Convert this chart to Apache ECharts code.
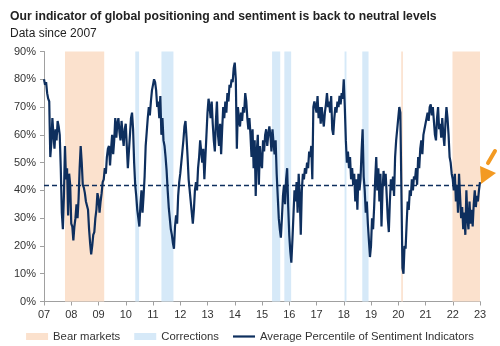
<!DOCTYPE html>
<html><head><meta charset="utf-8">
<script src="https://cdn.jsdelivr.net/npm/echarts@6/dist/echarts.min.js"></script>
<style>html,body{margin:0;padding:0;background:#fff}#c{width:500px;height:346px}</style>
</head><body><div id="c"></div>
<script>
const titleText = 'Our indicator of global positioning and sentiment is back to neutral levels';
const subtitleText = 'Data since 2007';
const yearTickLabels = ['07','08','09','10','11','12','13','14','15','16','17','18','19','20','21','22','23'];
const seriesStartYear = 2007;
const pointsPerYear = 26;
const values2007 = [80,78,79,75,73,72,52,57,66,60,55,62,58,65,63,60,48,32,26,38,56,44,48,31,46,42];
const values2008 = [28,27,22,27,30,35,30,37,48,56,50,42,41,39,36,36,33,26,21,17,20,24,25,30,33,39];
const values2009 = [37,32,36,39,43,44,48,46,52,55,56,49,55,60,53,58,66,59,64,66,61,58,65,60,56,62];
const values2010 = [64,56,48,54,60,66,68,62,50,42,38,33,30,27,35,40,32,38,45,56,61,66,70,67,72,76];
const values2011 = [78,80,79,76,70,72,66,74,60,66,58,56,52,47,40,34,30,26,24,21,19,27,31,28,38,43];
const values2012 = [46,50,54,58,63,65,59,52,44,40,36,32,28,33,40,43,40,48,52,58,54,50,55,44,52,60];
const values2013 = [68,73,70,66,72,64,58,54,65,72,60,56,64,53,62,70,66,72,68,75,72,78,77,80,79,84];
const values2014 = [86,80,55,70,66,63,68,65,70,68,75,72,66,62,66,60,52,62,48,58,38,54,60,42,56,50];
const values2015 = [48,58,54,60,62,56,60,63,60,54,62,57,53,58,46,38,30,26,23,30,38,42,35,44,48,34];
const values2016 = [24,18,14,22,31,40,36,43,32,46,38,24,40,46,44,48,46,50,48,54,52,56,44,70,72,70];
const values2017 = [68,74,66,70,64,70,66,63,68,71,75,70,72,68,74,62,60,66,70,68,72,70,74,71,75,73];
const values2018 = [80,70,58,50,54,48,52,44,48,42,46,36,44,33,46,40,44,54,62,45,40,32,36,28,22,16];
const values2019 = [20,30,26,34,44,52,40,48,36,46,27,40,47,42,46,38,30,25,36,44,40,45,38,52,58,62];
const values2020 = [66,70,68,40,12,10,20,19,28,36,33,40,38,44,40,45,44,48,42,52,48,55,58,53,60,62];
const values2021 = [64,66,68,65,70,71,67,70,65,60,58,66,70,62,64,59,66,60,56,64,70,66,60,52,50,46];
const values2022 = [44,40,46,36,42,32,46,38,30,34,26,32,24,40,30,26,36,28,33,27,35,40,34,38,36,40];
const values2023 = [43];
const neutralLevel = 42;
const bearMarkets = [[2007.77, 2009.21], [2020.11, 2020.17], [2021.99, 2023.0]];
const corrections = [[2010.35, 2010.49], [2011.31, 2011.75], [2015.37, 2015.67], [2015.82, 2016.07], [2018.03, 2018.10], [2018.68, 2018.91]];

const sentimentValues = [].concat(values2007, values2008, values2009, values2010, values2011, values2012,
  values2013, values2014, values2015, values2016, values2017, values2018, values2019, values2020,
  values2021, values2022, values2023);
const lineData = sentimentValues.map((v, i) => [seriesStartYear + i / pointsPerYear, v]);

const FONT = 'Liberation Sans, Arial, sans-serif';
const lineColor = '#0e2f5e';
const bearColor = '#fbe1cd';
const corrColor = '#d6e9f8';
const orange = '#f39a22';

const chart = echarts.init(document.getElementById('c'), null, {renderer: 'canvas'});
chart.setOption({
  animation: false,
  backgroundColor: '#fff',
  title: [
    {text: titleText, left: 5, top: 6, textStyle: {fontFamily: FONT, fontSize: 12.2, fontWeight: 'bold', color: '#222'}},
    {text: subtitleText, left: 5, top: 23, textStyle: {fontFamily: FONT, fontSize: 12, fontWeight: 'normal', color: '#222'}}
  ],
  grid: {left: 44, right: 20, top: 51.5, bottom: 44.5},
  xAxis: {
    type: 'value', min: 2007, max: 2023, interval: 1,
    axisLine: {lineStyle: {color: '#a0a0a0', width: 1}},
    axisTick: {show: true, length: 4, lineStyle: {color: '#a0a0a0'}},
    splitLine: {show: false},
    axisLabel: {fontFamily: FONT, fontSize: 11, color: '#333', margin: 8,
      formatter: v => yearTickLabels[Math.round(v - 2007)]}
  },
  yAxis: {
    type: 'value', min: 0, max: 90, interval: 10,
    axisLine: {show: true, lineStyle: {color: '#a0a0a0', width: 1}},
    axisTick: {show: true, length: 4, lineStyle: {color: '#a0a0a0'}},
    splitLine: {show: false},
    axisLabel: {fontFamily: FONT, fontSize: 11, color: '#333', margin: 8, formatter: v => v + '%'}
  },
  legend: {
    top: 326, left: 'center', itemGap: 14, itemWidth: 22, itemHeight: 7,
    textStyle: {fontFamily: FONT, fontSize: 11.3, color: '#333'},
    data: [
      {name: 'Bear markets', icon: 'rect'},
      {name: 'Corrections', icon: 'rect'},
      {name: 'Average Percentile of Sentiment Indicators', icon: 'path://M0,0H100V10H0Z'}
    ]
  },
  series: [
    {
      name: 'Bear markets', type: 'line', data: [], z: 1,
      itemStyle: {color: bearColor}, lineStyle: {color: bearColor},
      markArea: {silent: true, itemStyle: {color: bearColor},
        data: bearMarkets.map(r => [{xAxis: r[0]}, {xAxis: r[1]}])}
    },
    {
      name: 'Corrections', type: 'line', data: [], z: 1,
      itemStyle: {color: corrColor}, lineStyle: {color: corrColor},
      markArea: {silent: true, itemStyle: {color: corrColor},
        data: corrections.map(r => [{xAxis: r[0]}, {xAxis: r[1]}])}
    },
    {
      name: 'Average Percentile of Sentiment Indicators', type: 'line', z: 3,
      data: lineData, symbol: 'none', showSymbol: false,
      lineStyle: {color: lineColor, width: 2.2}, itemStyle: {color: lineColor},
      markLine: {silent: true, symbol: 'none', label: {show: false},
        lineStyle: {color: lineColor, type: [5, 3], width: 1.3},
        data: [{yAxis: neutralLevel}]}
    }
  ]
});

const last = lineData[lineData.length - 1];
const p = chart.convertToPixel({xAxisIndex: 0, yAxisIndex: 0}, last);
chart.setOption({
  graphic: [
    {type: 'polygon', z: 10, shape: {points: [[p[0] + 1, p[1] + 2], [p[0], p[1] - 16], [p[0] + 16, p[1] - 9]]},
      style: {fill: orange}},
    {type: 'line', z: 10, shape: {x1: p[0] + 8, y1: p[1] - 19, x2: p[0] + 15, y2: p[1] - 31},
      style: {stroke: orange, lineWidth: 4, lineCap: 'round'}}
  ]
});
</script></body></html>
